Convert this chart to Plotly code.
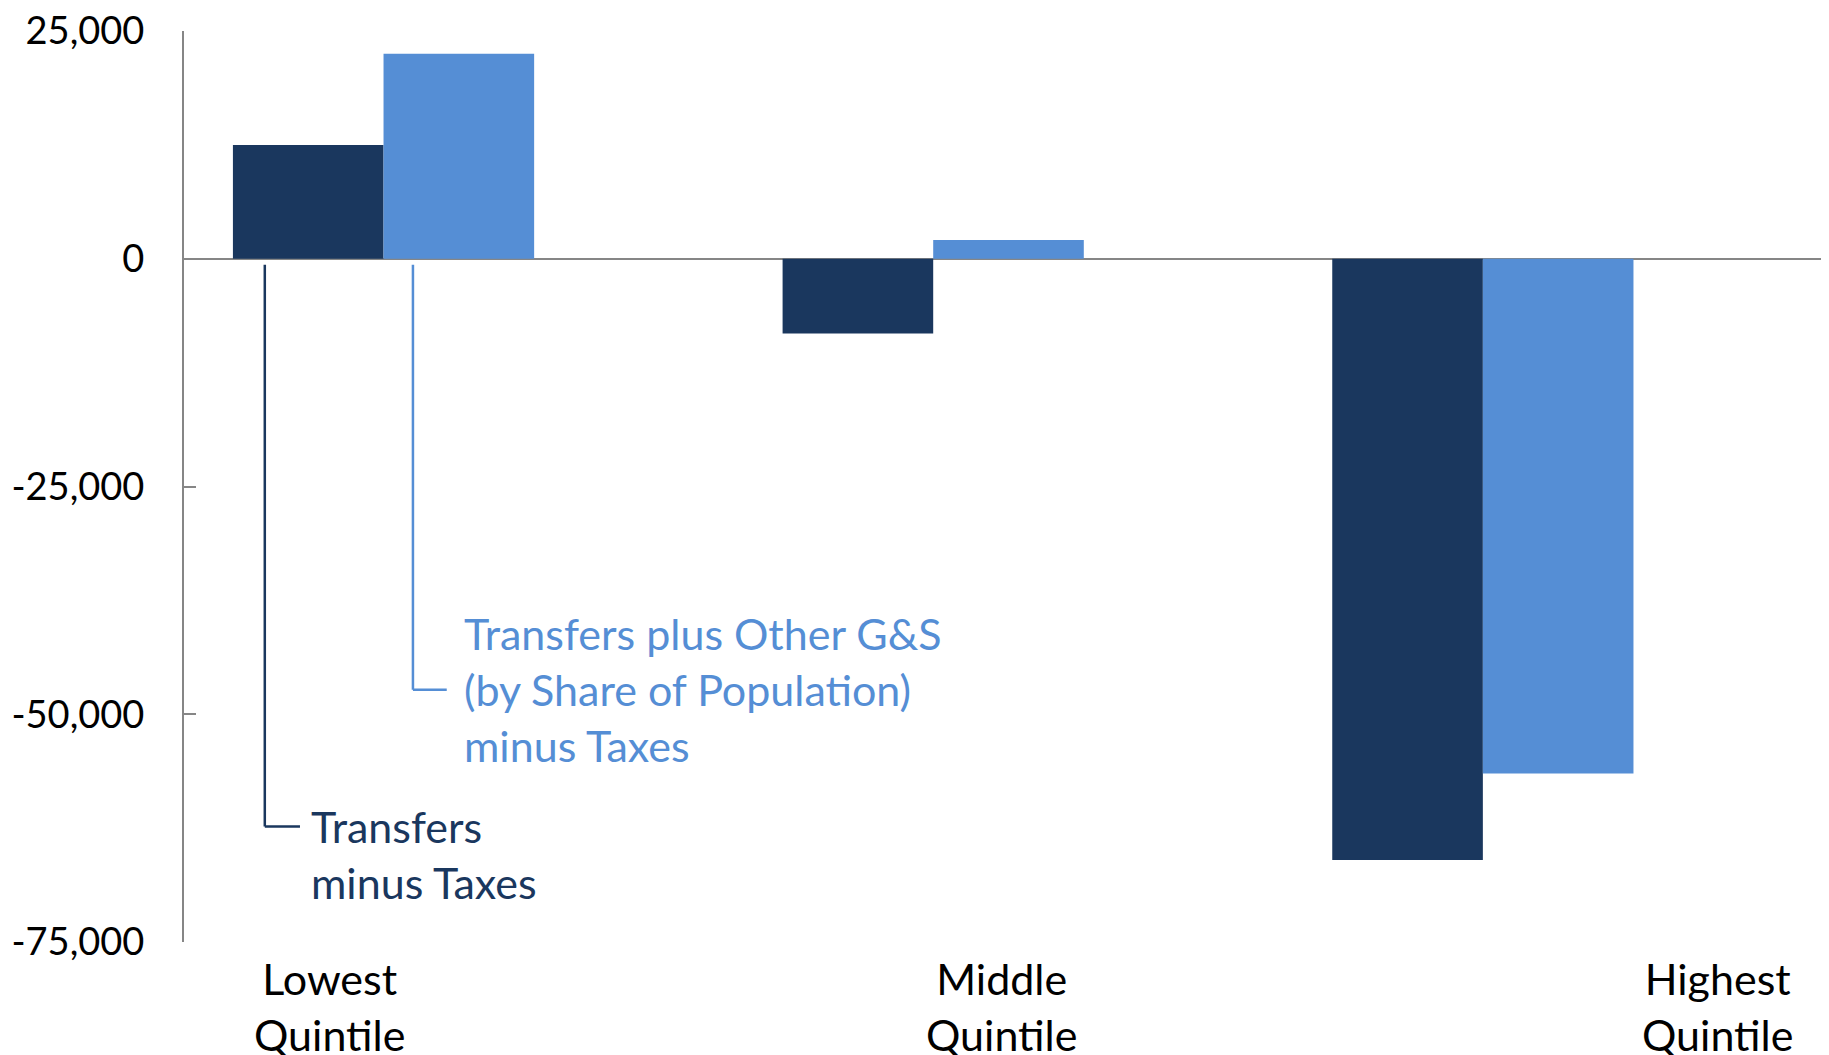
import plotly.graph_objects as go

categories = ["Lowest Quintile", "Middle Quintile", "Highest Quintile"]
category_labels = ["Lowest<br>Quintile", "Middle<br>Quintile", "Highest<br>Quintile"]
transfers_minus_taxes = [12500, -8200, -66000]
transfers_plus_gs_minus_taxes = [22500, 2050, -56500]
y_ticks = [25000, 0, -25000, -50000, -75000]
y_tick_text = ["25,000", "0", "-25,000", "-50,000", "-75,000"]

DARK = "#1A375E"
LIGHT = "#558ED5"
GREY = "#868686"
FONT = "Lato"

fig = go.Figure()
fig.add_trace(go.Bar(x=categories, y=transfers_minus_taxes, marker_color=DARK,
                     marker_line_width=0, name="Transfers minus Taxes"))
fig.add_trace(go.Bar(x=categories, y=transfers_plus_gs_minus_taxes, marker_color=LIGHT,
                     marker_line_width=0,
                     name="Transfers plus Other G&S (by Share of Population) minus Taxes"))

fig.update_layout(
    width=1829, height=1055,
    margin=dict(l=176, r=4, t=23, b=121),
    plot_bgcolor="white", paper_bgcolor="white",
    barmode="group", bargap=0.452, bargroupgap=0,
    showlegend=False,
    font=dict(family=FONT, size=38, color="black"),
)
fig.update_xaxes(range=[-0.363, 2.637], showticklabels=False, showgrid=False,
                 zeroline=False, showline=False, automargin=False)
fig.update_yaxes(range=[-75000, 25000], tickvals=y_ticks, ticktext=y_tick_text,
                 showgrid=False, zeroline=True, zerolinecolor=GREY, zerolinewidth=2,
                 showline=True, linecolor=GREY, linewidth=2,
                 ticks="inside", ticklen=12, tickcolor=GREY, tickwidth=2,
                 tickfont=dict(family=FONT, size=38, color="black"), ticklabelstandoff=30,
                 automargin=False, ticklabeloverflow="allow")

# leader lines to series labels
fig.add_shape(type="line", xref="x", yref="y", x0=-0.216, x1=-0.216, y0=-660, y1=-62330,
              line=dict(color=DARK, width=2.5))
fig.add_shape(type="line", xref="x", yref="y", x0=-0.216, x1=-0.152, y0=-62330, y1=-62330,
              line=dict(color=DARK, width=2.5))
fig.add_shape(type="line", xref="x", yref="y", x0=0.0535, x1=0.0535, y0=-660, y1=-47300,
              line=dict(color=LIGHT, width=2.5))
fig.add_shape(type="line", xref="x", yref="y", x0=0.0535, x1=0.115, y0=-47300, y1=-47300,
              line=dict(color=LIGHT, width=2.5))

fig.add_annotation(text="Transfers<br>minus Taxes", xref="x", yref="y", x=-0.135, y=-65400,
                   xanchor="left", yanchor="middle", align="left", showarrow=False,
                   font=dict(family=FONT, size=43, color=DARK))
fig.add_annotation(text="Transfers plus Other G&S<br>(by Share of Population)<br>minus Taxes",
                   xref="x", yref="y", x=0.142, y=-47300, xanchor="left", yanchor="middle",
                   align="left", showarrow=False, font=dict(family=FONT, size=43, color=LIGHT))

label_x = [-0.099, 1.124, 2.427]
for lx, lab in zip(label_x, category_labels):
    fig.add_annotation(text=lab, xref="x", yref="paper", x=lx, y=-0.071,
                       xanchor="center", yanchor="middle", align="center", showarrow=False,
                       font=dict(family=FONT, size=43, color="black"))

fig.write_html("out.html")
